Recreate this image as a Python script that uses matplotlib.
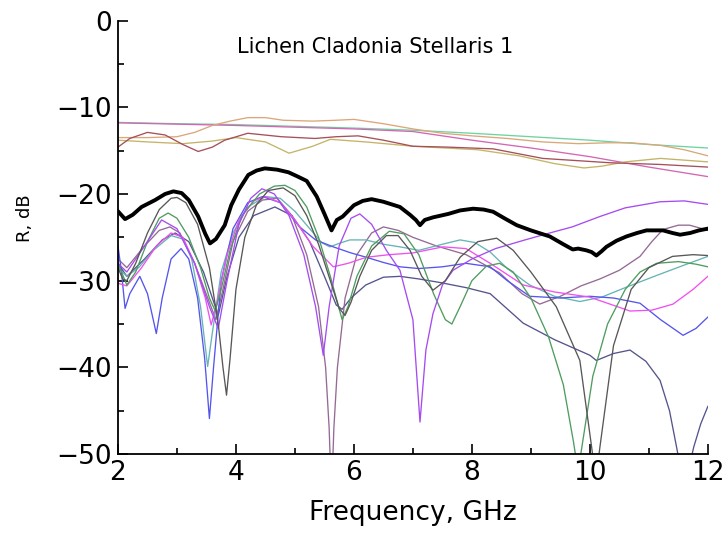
import matplotlib
matplotlib.use("Agg")
import matplotlib.pyplot as plt
from matplotlib.ticker import MultipleLocator

plt.rcParams['font.family'] = ['DejaVu Sans']

# ---------------- data ----------------
thick_x = [2.00, 2.12, 2.25, 2.40, 2.63, 2.80, 2.94, 3.08, 3.20, 3.36, 3.48, 3.56, 3.66, 3.81, 3.92,
           4.05, 4.21, 4.35, 4.49, 4.70, 4.89, 5.05, 5.20, 5.37, 5.50, 5.62, 5.71, 5.81, 6.00, 6.15,
           6.30, 6.50, 6.78, 6.95, 7.05, 7.12, 7.20, 7.34, 7.60, 7.80, 8.02, 8.20, 8.36, 8.55, 8.76,
           9.00, 9.32, 9.55, 9.71, 9.80, 9.94, 10.03, 10.11, 10.20, 10.28, 10.45, 10.62, 10.80, 10.96,
           11.24, 11.40, 11.53, 11.70, 11.85, 12.00]
thick_y = [-22.0, -22.9, -22.4, -21.5, -20.7, -20.0, -19.7, -19.9, -20.7, -22.6, -24.6, -25.7, -25.2, -23.6, -21.3,
           -19.5, -17.8, -17.3, -17.05, -17.2, -17.5, -18.0, -18.5, -20.3, -22.3, -24.2, -23.0, -22.6, -21.3, -20.8,
           -20.6, -20.9, -21.5, -22.4, -23.0, -23.6, -23.0, -22.7, -22.3, -21.9, -21.7, -21.8, -22.05, -22.8, -23.6,
           -24.2, -24.9, -25.8, -26.4, -26.3, -26.5, -26.7, -27.1, -26.6, -26.1, -25.4, -24.9, -24.5, -24.2,
           -24.2, -24.5, -24.7, -24.5, -24.2, -24.0]

# upper group
mint_x = [2, 3, 4, 5, 6, 7, 8, 9, 10, 11, 12]
mint_y = [-11.75, -11.9, -12.0, -12.2, -12.4, -12.65, -13.0, -13.4, -13.8, -14.3, -14.7]

rose_x = [2, 3, 4, 5, 6, 7, 8, 9, 10, 11, 12]
rose_y = [-11.8, -11.95, -12.1, -12.3, -12.5, -12.8, -13.8, -14.7, -15.7, -16.9, -18.0]

tan_x = [2.0, 2.5, 3.0, 3.3, 3.6, 3.9, 4.2, 4.5, 4.8, 5.3, 5.7, 6.0, 6.5, 7.0, 7.5, 8.0, 8.6, 9.2,
         9.8, 10.3, 10.7, 11.2, 11.6, 12.0]
tan_y = [-13.5, -13.5, -13.4, -12.9, -12.1, -11.6, -11.2, -11.2, -11.5, -11.6, -11.5, -11.4, -11.9, -12.5,
         -13.0, -13.3, -13.6, -14.0, -14.2, -14.1, -14.1, -14.4, -14.9, -15.6]

olive_x = [2.0, 2.5, 3.1, 3.6, 4.0, 4.5, 4.9, 5.3, 5.6, 6.2, 7.0, 8.1, 8.8, 9.4, 9.9, 10.2, 10.6, 11.2, 12.0]
olive_y = [-13.8, -14.0, -14.2, -13.9, -13.5, -14.0, -15.3, -14.5, -13.7, -14.0, -14.5, -14.9, -15.6, -16.5,
           -17.0, -16.8, -16.3, -15.9, -16.3]

brown_x = [2.0, 2.2, 2.5, 2.8, 3.1, 3.36, 3.6, 3.81, 4.2, 4.77, 5.34, 5.7, 6.07, 6.5, 7.0, 7.6, 8.36, 9.2,
           10.34, 11.2, 12.0]
brown_y = [-14.6, -13.6, -12.9, -13.2, -14.3, -15.1, -14.6, -13.8, -13.0, -13.4, -13.6, -13.4, -13.3, -13.8,
           -14.5, -14.6, -14.8, -15.9, -16.4, -16.6, -16.9]

# lower group
gray_x = [2.00, 2.08, 2.15, 2.30, 2.50, 2.70, 2.90, 3.00, 3.15, 3.35, 3.55, 3.70, 3.78, 3.84, 3.90, 4.00,
          4.15, 4.35, 4.55, 4.80, 5.00, 5.20, 5.40, 5.60, 5.75, 5.85, 5.95, 6.10, 6.30, 6.55, 6.75, 6.95,
          7.15, 7.34, 7.55, 7.80, 8.10, 8.42, 8.70, 9.00, 9.43, 9.83, 10.03, 10.10, 10.17, 10.40, 10.70,
          11.00, 11.40, 11.75, 12.00]
gray_y = [-28.5, -29.8, -30.0, -28.0, -24.5, -21.8, -20.5, -20.4, -21.0, -23.5, -28.5, -35.0, -40.0, -43.2,
          -39.0, -31.0, -25.0, -21.2, -19.6, -19.3, -20.2, -22.5, -25.8, -30.0, -33.2, -34.0, -32.5, -29.5,
          -26.5, -24.8, -24.8, -26.5, -29.5, -31.1, -30.0, -27.3, -25.5, -25.1, -26.5, -29.0, -33.0, -39.2,
          -49.2, -53.0, -49.2, -37.5, -31.0, -28.5, -27.2, -27.0, -27.1]

green_x = [2.00, 2.15, 2.30, 2.50, 2.70, 2.85, 3.00, 3.20, 3.40, 3.55, 3.65, 3.75, 3.90, 4.10, 4.40, 4.65,
           4.83, 5.00, 5.20, 5.40, 5.60, 5.80, 5.90, 6.05, 6.30, 6.60, 6.85, 7.10, 7.35, 7.55, 7.66, 7.80,
           8.00, 8.25, 8.47, 8.70, 9.00, 9.30, 9.55, 9.72, 9.80, 9.88, 10.05, 10.30, 10.60, 10.85, 11.13,
           11.50, 11.80, 12.00]
green_y = [-28.0, -30.5, -29.0, -25.5, -22.8, -22.2, -22.8, -25.0, -28.5, -32.0, -33.5, -31.0, -26.5, -22.5,
           -20.0, -19.1, -19.0, -19.6, -21.5, -25.0, -29.5, -34.5, -33.0, -29.5, -26.0, -24.3, -24.6, -27.0,
           -31.5, -34.5, -35.0, -33.0, -30.0, -28.3, -28.0, -29.0, -32.0, -36.5, -42.0, -48.5, -52.0, -48.5,
           -41.0, -35.0, -31.0, -29.0, -28.0, -27.8, -28.1, -28.4]

teal_x = [2.00, 2.15, 2.35, 2.60, 2.90, 3.10, 3.25, 3.40, 3.52, 3.60, 3.75, 3.95, 4.20, 4.50, 4.75, 5.00,
          5.25, 5.45, 5.59, 5.75, 5.93, 6.20, 6.50, 6.78, 7.10, 7.50, 7.80, 8.05, 8.31, 8.60, 8.98, 9.40,
          9.83, 10.20, 10.60, 11.13, 11.60, 12.00]
teal_y = [-28.5, -29.5, -28.5, -26.5, -24.8, -25.2, -27.5, -33.0, -39.9, -36.0, -29.0, -24.5, -21.5, -20.3,
          -20.5, -22.0, -24.0, -25.6, -26.1, -25.7, -25.3, -25.3, -25.8, -26.1, -26.5, -25.8, -25.3, -25.6,
          -26.7, -28.6, -30.5, -31.8, -32.4, -31.9, -30.8, -29.4, -28.2, -27.2]

blue_x = [2.00, 2.06, 2.12, 2.20, 2.37, 2.50, 2.65, 2.75, 2.90, 3.07, 3.20, 3.35, 3.47, 3.55, 3.62, 3.75,
          3.95, 4.20, 4.45, 4.75, 5.08, 5.35, 5.65, 5.95, 6.21, 6.50, 6.78, 7.10, 7.50, 7.90, 8.31, 8.60,
          8.98, 9.50, 10.00, 10.40, 10.85, 11.20, 11.58, 11.80, 12.00]
blue_y = [-26.0, -29.0, -33.2, -31.5, -29.5, -31.5, -36.1, -32.0, -27.5, -26.3, -27.5, -32.0, -39.0, -45.9,
          -40.0, -30.0, -24.0, -21.0, -20.3, -21.0, -23.8, -25.3, -26.1, -26.8, -27.3, -27.9, -28.4, -28.6,
          -28.4, -28.0, -28.4, -30.0, -31.8, -32.0, -31.8, -32.0, -32.6, -34.5, -36.3, -35.5, -34.2]

navy_x = [2.00, 2.15, 2.45, 2.75, 2.97, 3.20, 3.45, 3.70, 3.85, 4.05, 4.30, 4.66, 4.95, 5.25, 5.50, 5.70,
          5.80, 5.95, 6.20, 6.50, 6.78, 7.10, 7.45, 7.90, 8.31, 8.87, 9.40, 10.00, 10.11, 10.40, 10.68,
          10.95, 11.19, 11.35, 11.47, 11.60, 11.76, 11.88, 12.00]
navy_y = [-28.0, -29.5, -27.5, -25.3, -24.5, -25.5, -29.0, -34.0, -29.5, -25.0, -22.5, -21.5, -22.5, -25.5,
          -29.5, -32.8, -33.3, -32.0, -30.5, -29.6, -29.5, -29.8, -30.2, -30.8, -31.5, -34.9, -36.8, -38.6,
          -39.2, -38.4, -38.0, -39.3, -41.5, -45.0, -49.2, -54.0, -49.2, -46.5, -44.5]

violet_x = [2.00, 2.15, 2.40, 2.74, 3.00, 3.30, 3.55, 3.70, 3.85, 4.05, 4.25, 4.44, 4.65, 4.90, 5.15, 5.35,
            5.48, 5.58, 5.75, 5.95, 6.10, 6.30, 6.55, 6.78, 7.00, 7.12, 7.22, 7.34, 7.50, 7.68, 8.00, 8.40,
            8.90, 9.32, 9.70, 10.17, 10.60, 11.19, 11.60, 12.00]
violet_y = [-28.0, -29.0, -26.5, -23.0, -24.0, -28.0, -33.0, -35.5, -30.0, -23.5, -20.5, -19.4, -20.0, -22.5,
            -27.0, -33.0, -38.6, -33.0, -26.0, -22.8, -22.3, -23.5, -26.5, -28.8, -34.5, -46.3, -38.0, -33.8,
            -30.5, -28.8, -27.5, -26.3, -25.3, -24.5, -23.8, -22.6, -21.6, -20.9, -20.8, -21.2]

magenta_x = [2.00, 2.15, 2.40, 2.65, 2.90, 3.10, 3.30, 3.48, 3.58, 3.68, 3.85, 4.05, 4.30, 4.50, 4.75, 5.00,
             5.30, 5.65, 5.90, 6.21, 6.60, 7.00, 7.51, 7.90, 8.31, 8.87, 9.40, 10.00, 10.68, 11.05, 11.41,
             11.75, 12.00]
magenta_y = [-30.3, -30.6, -28.5, -26.0, -24.5, -25.0, -28.0, -32.0, -35.1, -32.5, -27.0, -23.0, -20.8, -20.3,
             -21.0, -23.0, -26.0, -28.4, -28.0, -27.3, -27.0, -26.8, -26.1, -26.3, -28.0, -30.5, -31.3, -31.9,
             -33.5, -33.4, -32.7, -31.0, -29.5]

mauve_x = [2.00, 2.15, 2.45, 2.70, 2.88, 3.05, 3.30, 3.55, 3.66, 3.78, 3.95, 4.20, 4.45, 4.70, 4.95, 5.20,
           5.40, 5.52, 5.58, 5.62, 5.66, 5.72, 5.85, 6.05, 6.30, 6.50, 6.75, 7.00, 7.40, 7.90, 8.47, 8.85,
           9.15, 9.50, 9.85, 10.17, 10.50, 10.85, 11.05, 11.24, 11.50, 11.69, 11.85, 12.00]
mauve_y = [-27.5, -28.5, -26.0, -24.2, -23.8, -24.5, -28.0, -32.5, -34.5, -31.0, -25.5, -22.0, -20.7, -20.5,
           -22.5, -27.0, -33.0, -40.0, -47.0, -55.0, -47.0, -40.0, -32.0, -27.0, -24.5, -23.8, -24.2, -25.0,
           -26.0, -27.0, -29.1, -31.5, -32.7, -31.8, -30.6, -29.8, -28.8, -27.2, -25.5, -24.1, -23.6, -23.6,
           -23.9, -24.2]

title_text = "Lichen Cladonia Stellaris 1"
x_label = "Frequency, GHz"
y_label = "R, dB"
x_ticks = [2, 4, 6, 8, 10, 12]
y_ticks = [0, -10, -20, -30, -40, -50]

# ---------------- figure ----------------
fig = plt.figure(figsize=(7.26, 5.33), dpi=100)
ax = fig.add_axes([0.1625, 0.148, 0.8125, 0.8135])

thin = 0.95
series = [
    (mint_x, mint_y, '#6fd3a0'),
    (rose_x, rose_y, '#d466b4'),
    (tan_x, tan_y, '#dba77a'),
    (olive_x, olive_y, '#c4b468'),
    (brown_x, brown_y, '#a5505a'),
    (navy_x, navy_y, '#54548e'),
    (mauve_x, mauve_y, '#946a94'),
    (teal_x, teal_y, '#66b4b4'),
    (blue_x, blue_y, '#5555ee'),
    (magenta_x, magenta_y, '#f050f0'),
    (green_x, green_y, '#4f9c5f'),
    (violet_x, violet_y, '#a54cf0'),
    (gray_x, gray_y, '#575757'),
]
for xs, ys, c in series:
    ax.plot(xs, ys, color=c, lw=thin, solid_joinstyle='round')

ax.plot(thick_x, thick_y, color='black', lw=2.8, solid_joinstyle='round')

ax.set_xlim(2, 12)
ax.set_ylim(-50, 0)
ax.spines['top'].set_visible(False)
ax.spines['right'].set_visible(False)
ax.spines['left'].set_linewidth(1.3)
ax.spines['bottom'].set_linewidth(1.3)

ax.set_xticks(x_ticks)
ax.set_xticklabels([str(t) for t in x_ticks])
ax.set_yticks(y_ticks)
ax.set_yticklabels([str(t).replace('-', '\u2212') for t in y_ticks])
ax.xaxis.set_minor_locator(MultipleLocator(1))
ax.yaxis.set_minor_locator(MultipleLocator(5))
ax.tick_params(which='major', direction='in', length=7, width=1.2, labelsize=19, pad=4.5,
               top=False, right=False)
ax.tick_params(which='minor', direction='in', length=4.5, width=1.2, top=False, right=False)

ax.set_xlabel(x_label, fontsize=19)
ax.xaxis.set_label_coords(0.5, -0.105)
ax.set_ylabel(y_label, fontsize=13)
ax.yaxis.set_label_coords(-0.143, 0.545)
ax.text(0.436, 0.94, title_text, transform=ax.transAxes, ha='center', va='center', fontsize=15)

fig.savefig("out.png", dpi=100)
